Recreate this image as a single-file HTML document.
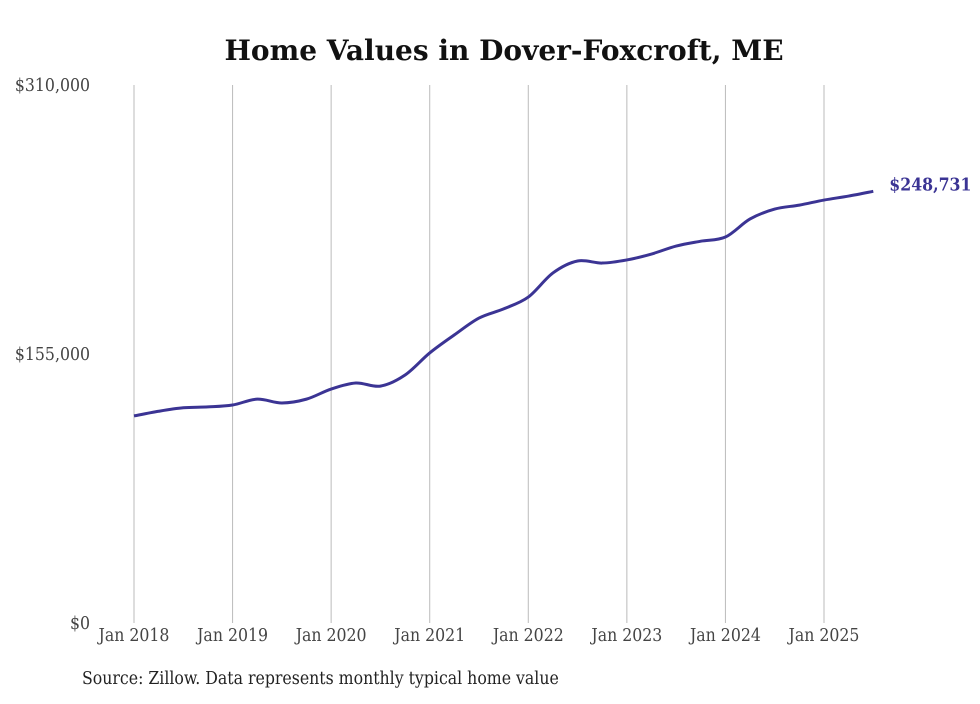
<!DOCTYPE html>
<html><head><meta charset="utf-8"><style>
body{margin:0;background:#fff;width:980px;height:699px;overflow:hidden}
svg text{font-family:"DejaVu Serif","Liberation Serif",serif;font-stretch:condensed}
</style></head><body>
<svg id="chart" width="980" height="699" xmlns="http://www.w3.org/2000/svg">
<text x="504" y="60" text-anchor="middle" font-size="28" font-weight="bold" fill="#111" style="font-stretch:normal">Home Values in Dover-Foxcroft, ME</text>
<g id="grid"></g>
<g id="yax"></g>
<g id="xax"></g>
<path id="line" fill="none" stroke="#3b3494" stroke-width="3"/>
<text id="endlab" font-size="17.5" font-weight="bold" fill="#3b3494"></text>
<text x="82" y="684" font-size="17.5" fill="#222">Source: Zillow. Data represents monthly typical home value</text>
</svg>
<script>
const yTicks=[0,155000,310000];
const yTickLabels=["$0","$155,000","$310,000"];
const xTickYears=[2018,2019,2020,2021,2022,2023,2024,2025];
const months=[0,3,6,9,12,15,18,21,24,27,30,33,36,39,42,45,48,51,54,57,60,63,66,69,72,75,78,81,84,87,90];
const values=[119300,122000,124000,124500,125600,129000,126800,129000,134800,138300,136500,142900,155600,166000,175700,181000,187800,201700,208600,207400,209200,212600,217200,220000,222400,232800,238500,240800,243700,246000,248731];
const endLabel="$248,731";
const NS="http://www.w3.org/2000/svg";
const x=m=>134+m*(690/84);
const y=v=>623-v*(538/310000);
const grid=document.getElementById('grid'),yax=document.getElementById('yax'),xax=document.getElementById('xax');
xTickYears.forEach((yr,i)=>{
 const l=document.createElementNS(NS,'line');
 
 
 const xx=x((yr-2018)*12);
 l.setAttribute('x1',xx);l.setAttribute('x2',xx);l.setAttribute('y1',85);l.setAttribute('y2',623);
 l.setAttribute('stroke','#bbb');l.setAttribute('stroke-width','1');grid.appendChild(l);
 const t=document.createElementNS(NS,'text');
 
 
 t.setAttribute('x',xx);t.setAttribute('y',641);t.setAttribute('text-anchor','middle');t.setAttribute('font-size','17.5');t.setAttribute('fill','#444');
 t.textContent='Jan '+yr;xax.appendChild(t);
});
yTicks.forEach((v,i)=>{
 const t=document.createElementNS(NS,'text');
 
 
 t.setAttribute('x',90);t.setAttribute('y',y(v)+6);t.setAttribute('text-anchor','end');t.setAttribute('font-size','17.5');t.setAttribute('fill','#444');
 t.textContent=yTickLabels[i];yax.appendChild(t);
});
const pts=months.map((m,i)=>[x(m),y(values[i])]);
let d='M'+pts[0][0]+','+pts[0][1];
for(let i=0;i<pts.length-1;i++){
 const p0=pts[Math.max(0,i-1)],p1=pts[i],p2=pts[i+1],p3=pts[Math.min(pts.length-1,i+2)];
 const c1=[p1[0]+(p2[0]-p0[0])/6,p1[1]+(p2[1]-p0[1])/6],c2=[p2[0]-(p3[0]-p1[0])/6,p2[1]-(p3[1]-p1[1])/6];
 d+=' C'+c1+' '+c2+' '+p2;
}
document.getElementById('line').setAttribute('d',d);
const last=pts[pts.length-1],el=document.getElementById('endlab');
el.setAttribute('x',last[0]+16);el.setAttribute('y',last[1]-1);el.textContent=endLabel;
</script>
</body></html>
